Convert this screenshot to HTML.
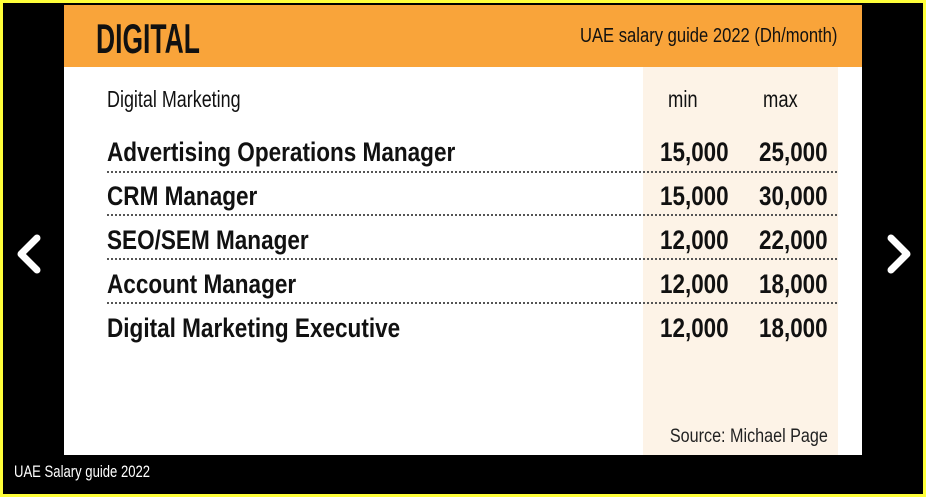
<!DOCTYPE html>
<html><head><style>
html,body{margin:0;padding:0;}
body{width:926px;height:497px;position:relative;overflow:hidden;background:#ffff3a;font-family:"Liberation Sans",sans-serif;}
.blk{position:absolute;left:3px;top:3px;width:920px;height:491px;background:#000;}
.panel{position:absolute;left:64px;top:5px;width:798px;height:450px;background:#fff;}
.hdr{position:absolute;left:0;top:0;width:798px;height:62px;background:#f9a43a;}
.beige{position:absolute;left:579px;top:62px;width:195px;height:388px;background:#fdf3e7;}
.t{position:absolute;white-space:nowrap;color:#111;line-height:1;transform-origin:left top;}
.row{position:absolute;left:43px;width:730px;border-bottom:2px dotted #555;}
.b{font-weight:bold;font-size:27px;transform:scaleX(0.835);}
.r{text-align:right;transform-origin:right top;}
.n{transform:scaleX(0.83);}
</style></head><body>
<div class="blk"></div>
<div class="panel">
 <div class="hdr"></div>
 <div class="beige"></div>
 <div class="t" style="left:32px;top:13px;font-size:42px;font-weight:bold;transform:scaleX(0.63);">DIGITAL</div>
 <div class="t" style="left:516px;top:21px;font-size:20px;transform:scaleX(0.83);">UAE salary guide 2022 (Dh/month)</div>
 <div class="t" style="left:43px;top:83px;font-size:23px;transform:scaleX(0.78);">Digital Marketing</div>
 <div class="t" style="left:604px;top:83px;font-size:23px;transform:scaleX(0.8);">min</div>
 <div class="t" style="left:699px;top:83px;font-size:23px;transform:scaleX(0.8);">max</div>
 <div class="row" style="top:166px;"></div>
 <div class="row" style="top:209px;"></div>
 <div class="row" style="top:253px;"></div>
 <div class="row" style="top:297px;"></div>
 <div class="t b" style="left:43px;top:134px;">Advertising Operations Manager</div>
 <div class="t b" style="left:43px;top:178px;">CRM Manager</div>
 <div class="t b" style="left:43px;top:222px;">SEO/SEM Manager</div>
 <div class="t b" style="left:43px;top:266px;">Account Manager</div>
 <div class="t b" style="left:43px;top:310px;">Digital Marketing Executive</div>
 <div class="t b r n" style="right:133px;top:134px;">15,000</div>
 <div class="t b r n" style="right:133px;top:178px;">15,000</div>
 <div class="t b r n" style="right:133px;top:222px;">12,000</div>
 <div class="t b r n" style="right:133px;top:266px;">12,000</div>
 <div class="t b r n" style="right:133px;top:310px;">12,000</div>
 <div class="t b r n" style="right:34px;top:134px;">25,000</div>
 <div class="t b r n" style="right:34px;top:178px;">30,000</div>
 <div class="t b r n" style="right:34px;top:222px;">22,000</div>
 <div class="t b r n" style="right:34px;top:266px;">18,000</div>
 <div class="t b r n" style="right:34px;top:310px;">18,000</div>
 <div class="t r" style="right:34px;top:422px;font-size:19px;color:#222;transform:scaleX(0.85);">Source: Michael Page</div>
</div>
<div class="t" style="left:14px;top:463px;font-size:17px;color:#fff;transform:scaleX(0.77);">UAE Salary guide 2022</div>
<svg style="position:absolute;left:0;top:0" width="926" height="497">
 <polyline points="37,238 21,254 37,270" fill="none" stroke="#fff" stroke-width="7" stroke-linecap="round" stroke-linejoin="round"/>
 <polyline points="891,238 907,254 891,270" fill="none" stroke="#fff" stroke-width="7" stroke-linecap="round" stroke-linejoin="round"/>
</svg>
</body></html>
